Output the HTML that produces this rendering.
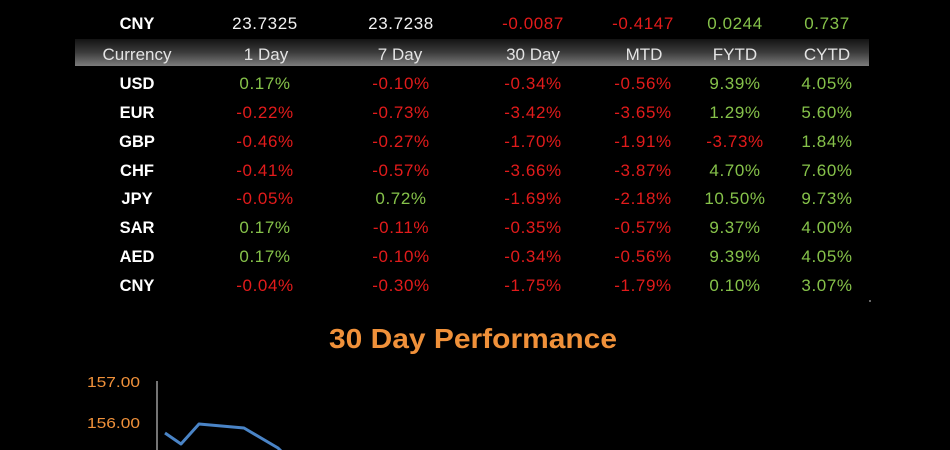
<!DOCTYPE html>
<html>
<head>
<meta charset="utf-8">
<style>
  html,body{margin:0;padding:0;background:#000;}
  body{width:950px;height:450px;overflow:hidden;}
  svg{display:block;}
  .lbl{font-family:"Liberation Sans",sans-serif;font-weight:bold;font-size:16.5px;fill:#ffffff;}
  .hdr{font-family:"Liberation Sans",sans-serif;font-size:17px;fill:#e4e4e4;}
  .v{font-family:"Liberation Sans",sans-serif;font-size:17px;letter-spacing:0.6px;}
  .r{fill:#e21b1b;}
  .g{fill:#86c24a;}
  .w{fill:#f2f2f2;}
</style>
</head>
<body>
<svg width="950" height="450" viewBox="0 0 950 450" xmlns="http://www.w3.org/2000/svg">
  <defs>
    <linearGradient id="hg" x1="0" y1="0" x2="0" y2="1">
      <stop offset="0" stop-color="#141414"/>
      <stop offset="0.5" stop-color="#3c3c3c"/>
      <stop offset="1" stop-color="#7c7c7c"/>
    </linearGradient>
  </defs>
  <rect x="0" y="0" width="950" height="450" fill="#000"/>

  <!-- header bar -->
  <rect x="75" y="39" width="794" height="27" fill="url(#hg)"/>

  <g text-anchor="middle">
    <!-- top CNY row -->
    <text class="lbl" x="137" y="29">CNY</text>
    <text class="v w" x="265" y="29">23.7325</text>
    <text class="v w" x="401" y="29">23.7238</text>
    <text class="v r" x="533" y="29">-0.0087</text>
    <text class="v r" x="643" y="29">-0.4147</text>
    <text class="v g" x="735" y="29">0.0244</text>
    <text class="v g" x="827" y="29">0.737</text>

    <!-- header -->
    <text class="hdr" x="137" y="60">Currency</text>
    <text class="hdr" x="266" y="60">1 Day</text>
    <text class="hdr" x="400" y="60">7 Day</text>
    <text class="hdr" x="533" y="60">30 Day</text>
    <text class="hdr" x="644" y="60">MTD</text>
    <text class="hdr" x="735" y="60">FYTD</text>
    <text class="hdr" x="827" y="60">CYTD</text>

    <!-- USD -->
    <text class="lbl" x="137" y="89">USD</text>
    <text class="v g" x="265" y="89">0.17%</text>
    <text class="v r" x="401" y="89">-0.10%</text>
    <text class="v r" x="533" y="89">-0.34%</text>
    <text class="v r" x="643" y="89">-0.56%</text>
    <text class="v g" x="735" y="89">9.39%</text>
    <text class="v g" x="827" y="89">4.05%</text>

    <!-- EUR -->
    <text class="lbl" x="137" y="118">EUR</text>
    <text class="v r" x="265" y="118">-0.22%</text>
    <text class="v r" x="401" y="118">-0.73%</text>
    <text class="v r" x="533" y="118">-3.42%</text>
    <text class="v r" x="643" y="118">-3.65%</text>
    <text class="v g" x="735" y="118">1.29%</text>
    <text class="v g" x="827" y="118">5.60%</text>

    <!-- GBP -->
    <text class="lbl" x="137" y="147">GBP</text>
    <text class="v r" x="265" y="147">-0.46%</text>
    <text class="v r" x="401" y="147">-0.27%</text>
    <text class="v r" x="533" y="147">-1.70%</text>
    <text class="v r" x="643" y="147">-1.91%</text>
    <text class="v r" x="735" y="147">-3.73%</text>
    <text class="v g" x="827" y="147">1.84%</text>

    <!-- CHF -->
    <text class="lbl" x="137" y="176">CHF</text>
    <text class="v r" x="265" y="176">-0.41%</text>
    <text class="v r" x="401" y="176">-0.57%</text>
    <text class="v r" x="533" y="176">-3.66%</text>
    <text class="v r" x="643" y="176">-3.87%</text>
    <text class="v g" x="735" y="176">4.70%</text>
    <text class="v g" x="827" y="176">7.60%</text>

    <!-- JPY -->
    <text class="lbl" x="137" y="204">JPY</text>
    <text class="v r" x="265" y="204">-0.05%</text>
    <text class="v g" x="401" y="204">0.72%</text>
    <text class="v r" x="533" y="204">-1.69%</text>
    <text class="v r" x="643" y="204">-2.18%</text>
    <text class="v g" x="735" y="204">10.50%</text>
    <text class="v g" x="827" y="204">9.73%</text>

    <!-- SAR -->
    <text class="lbl" x="137" y="233">SAR</text>
    <text class="v g" x="265" y="233">0.17%</text>
    <text class="v r" x="401" y="233">-0.11%</text>
    <text class="v r" x="533" y="233">-0.35%</text>
    <text class="v r" x="643" y="233">-0.57%</text>
    <text class="v g" x="735" y="233">9.37%</text>
    <text class="v g" x="827" y="233">4.00%</text>

    <!-- AED -->
    <text class="lbl" x="137" y="262">AED</text>
    <text class="v g" x="265" y="262">0.17%</text>
    <text class="v r" x="401" y="262">-0.10%</text>
    <text class="v r" x="533" y="262">-0.34%</text>
    <text class="v r" x="643" y="262">-0.56%</text>
    <text class="v g" x="735" y="262">9.39%</text>
    <text class="v g" x="827" y="262">4.05%</text>

    <!-- CNY -->
    <text class="lbl" x="137" y="291">CNY</text>
    <text class="v r" x="265" y="291">-0.04%</text>
    <text class="v r" x="401" y="291">-0.30%</text>
    <text class="v r" x="533" y="291">-1.75%</text>
    <text class="v r" x="643" y="291">-1.79%</text>
    <text class="v g" x="735" y="291">0.10%</text>
    <text class="v g" x="827" y="291">3.07%</text>
  </g>

  <!-- small dot -->
  <rect x="869" y="300" width="2" height="2" fill="#666"/>

  <!-- chart title -->
  <text x="329" y="348" font-family="Liberation Sans, sans-serif" font-weight="bold" font-size="28" fill="#f0913a" textLength="288" lengthAdjust="spacingAndGlyphs">30 Day Performance</text>

  <!-- y labels -->
  <text x="87" y="387" font-family="Liberation Sans, sans-serif" font-size="15" fill="#f0913a" textLength="53" lengthAdjust="spacingAndGlyphs">157.00</text>
  <text x="87" y="428" font-family="Liberation Sans, sans-serif" font-size="15" fill="#f0913a" textLength="53" lengthAdjust="spacingAndGlyphs">156.00</text>

  <!-- axis -->
  <line x1="157" y1="381" x2="157" y2="450" stroke="#9a9a9a" stroke-width="1.5"/>

  <!-- series -->
  <polyline points="165,433 181,444 199,424 244,428 278,448 282,452" fill="none" stroke="#4a84c6" stroke-width="3" stroke-linejoin="round"/>
</svg>
</body>
</html>
